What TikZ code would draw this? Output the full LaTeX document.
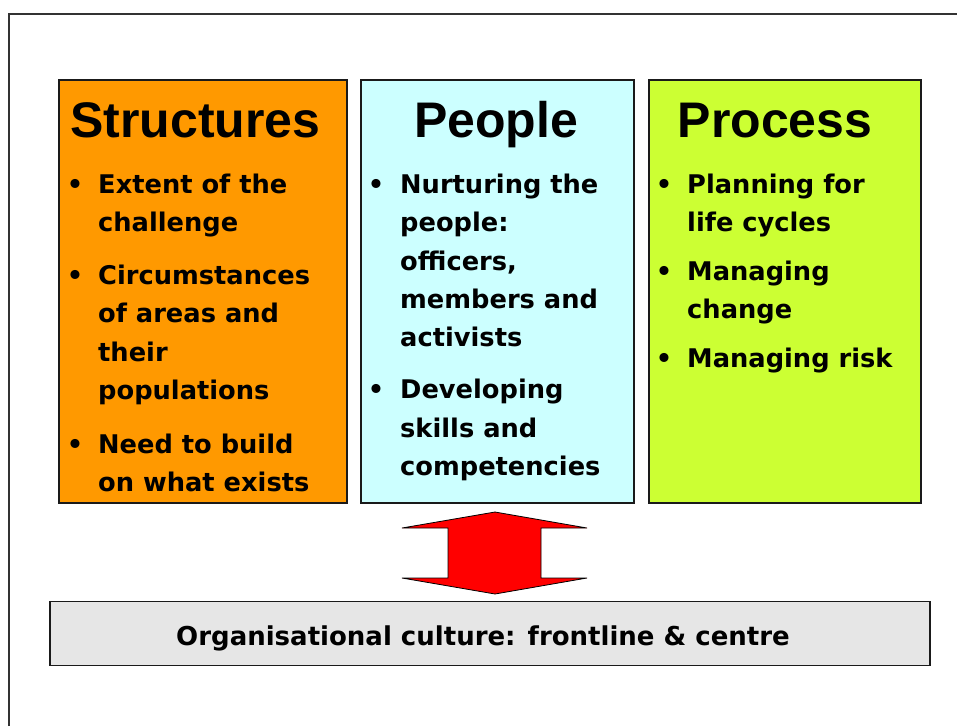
\documentclass[tikz,border=0pt]{standalone}
\usepackage{fontspec}
\setmainfont{DejaVu Sans}
\newfontfamily\titlefont{Liberation Sans}
\definecolor{orangebox}{HTML}{FF9900}
\definecolor{cyanbox}{HTML}{CCFFFF}
\definecolor{limebox}{HTML}{CCFF33}
\definecolor{greybox}{HTML}{E6E6E6}
\definecolor{edge}{HTML}{1A1A1A}
\newcommand{\firststrut}{\rule{0pt}{25pt}}
\begin{document}
\begin{tikzpicture}[x=1pt,y=-1pt,
  box/.style={draw=edge, line width=1.1pt, inner sep=0pt, minimum height=423pt},
  titletext/.style={font=\titlefont\bfseries\fontsize{50}{60}\selectfont, anchor=base, inner sep=0pt},
  itemtext/.style={font=\bfseries\fontsize{25.7}{38.3}\selectfont, anchor=north west, align=left, inner sep=0pt},
  bulletdot/.style={font=\bfseries\fontsize{25.7}{30}\selectfont, anchor=base, inner sep=0pt}]
\useasboundingbox (0,0) rectangle (957,726);
% outer frame
\draw[line width=1.2pt, draw=black!80] (9,726) -- (9,14) -- (957,14);
% boxes
\node[box, fill=orangebox, minimum width=288pt] (struct) at (203,291.5) {};
\node[box, fill=cyanbox, minimum width=273pt] (people) at (497.5,291.5) {};
\node[box, fill=limebox, minimum width=272pt] (process) at (785,291.5) {};
\node[draw=edge, line width=1.1pt, fill=greybox, minimum width=880pt, minimum height=64pt, inner sep=0pt] (culture) at (490,633.5) {};
% titles
\node[titletext] (t1) at (195.5,137) {Structures};
\node[titletext] (t2) at (496,137) {People};
\node[titletext] (t3) at (775,137) {Process};
% Structures bullets
\node[bulletdot] (s1b) at (75,193.3) {•};
\node[itemtext] (s1) at (98,168.3) {\firststrut Extent of the\\challenge};
\node[bulletdot] (s2b) at (75,284.3) {•};
\node[itemtext] (s2) at (98,259.3) {\firststrut Circumstances\\of areas and\\their\\populations};
\node[bulletdot] (s3b) at (75,453) {•};
\node[itemtext] (s3) at (98,428) {\firststrut Need to build\\on what exists};
% People bullets
\node[bulletdot] (p1b) at (376,193.3) {•};
\node[itemtext] (p1) at (400,168.3) {\firststrut Nurturing the\\people:\\officers,\\members and\\activists};
\node[bulletdot] (p2b) at (376,398.5) {•};
\node[itemtext] (p2) at (400,373.5) {\firststrut Developing\\skills and\\competencies};
% Process bullets
\node[bulletdot] (r1b) at (664,193.3) {•};
\node[itemtext] (r1) at (687,168.3) {\firststrut Planning for\\life cycles};
\node[bulletdot] (r2b) at (664,280) {•};
\node[itemtext] (r2) at (687,255) {\firststrut Managing\\change};
\node[bulletdot] (r3b) at (664,367) {•};
\node[itemtext] (r3) at (687,342) {\firststrut Managing risk};
% culture text
\node[font=\bfseries\fontsize{26}{30}\selectfont, anchor=base, inner sep=0pt] (ct) at (483,645) {Organisational culture: frontline \& centre};
% double arrow
\draw[fill=red, draw=black, line width=0.8pt, line join=miter]
  (495,512) -- (587,528) -- (541,528) -- (541,578) -- (587,578) -- (495,594)
  -- (402,578) -- (448,578) -- (448,528) -- (402,528) -- cycle;
\end{tikzpicture}
\end{document}
